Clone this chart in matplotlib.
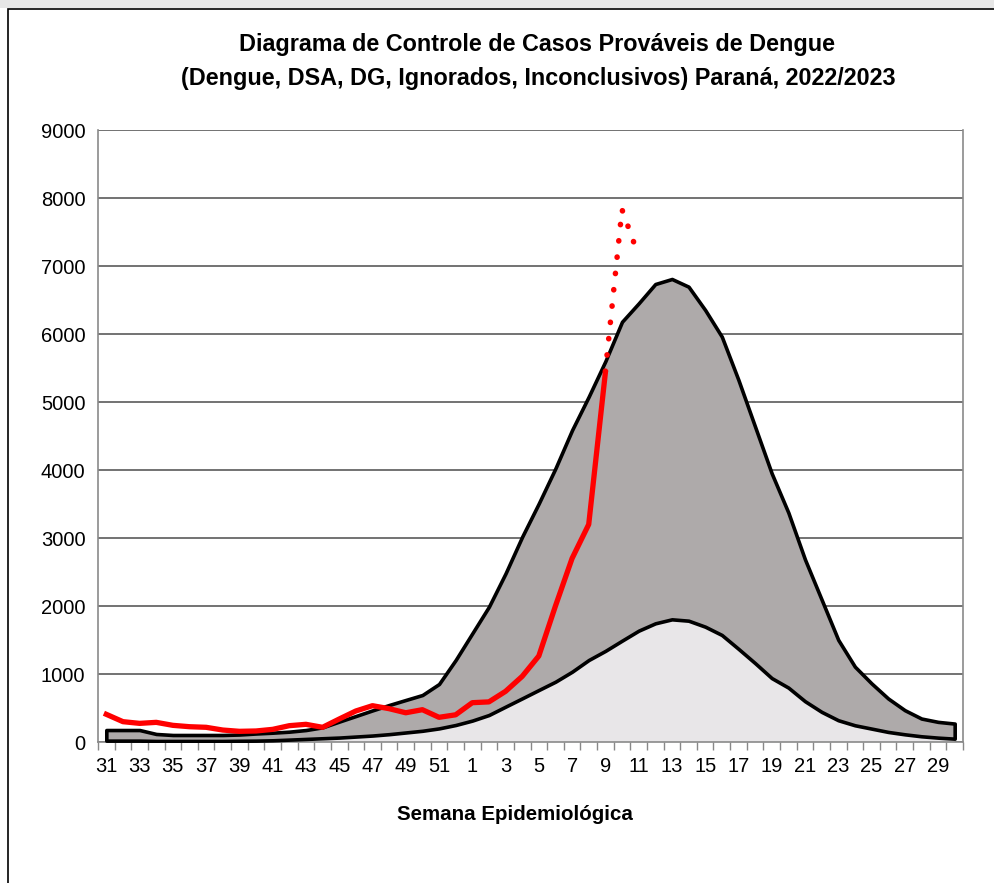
import numpy as np
import matplotlib
matplotlib.use("Agg")
import matplotlib.pyplot as plt
from matplotlib.patches import Rectangle

# semanas epidemiologicas 31/2022 .. 30/2023
weeks = list(range(31, 53)) + list(range(1, 31))

upper = [176, 176, 176, 118, 103, 103, 103, 103, 110, 125, 137, 152, 176, 216,
         300, 382, 465, 544, 618, 691, 853, 1206, 1598, 1990, 2480, 3020, 3510,
         4025, 4588, 5080, 5600, 6180, 6451, 6735, 6809, 6696, 6353, 5961, 5324,
         4637, 3950, 3374, 2685, 2094, 1502, 1108, 862, 640, 468, 345, 296, 271]
lower = [20, 20, 20, 15, 15, 15, 15, 15, 18, 20, 25, 35, 45, 55, 65, 80, 95,
         115, 140, 165, 200, 250, 315, 397, 520, 642, 765, 887, 1034, 1206,
         1340, 1490, 1637, 1745, 1804, 1784, 1696, 1574, 1370, 1160, 940, 800,
         600, 443, 320, 246, 197, 148, 113, 84, 64, 49]
# casos provaveis 2022/2023 (ate SE 9)
cases = [407, 299, 274, 289, 245, 225, 216, 176, 157, 162, 186, 240, 260, 216,
         338, 456, 534, 490, 430, 475, 363, 400, 578, 590, 745, 965, 1265, 2000,
         2700, 3200, 5430]
# estimativa (pontilhado) SE 9-11
est_weeks = [9, 10, 11]
est_cases = [5450, 7830, 7150]

title1 = "Diagrama de Controle de Casos Prováveis de Dengue"
title2 = "(Dengue, DSA, DG, Ignorados, Inconclusivos) Paraná, 2022/2023"

plt.rcParams["font.family"] = ["Liberation Sans", "DejaVu Sans"]

x = np.arange(len(weeks))
est_x = [weeks.index(w, 22) for w in est_weeks]

fig = plt.figure(figsize=(9.95, 8.83), dpi=100)
fig.patches.append(Rectangle((0, 1 - 8 / 883), 1, 8 / 883, transform=fig.transFigure,
                             facecolor="#e6e6e6", edgecolor="none"))
fig.patches.append(Rectangle((8 / 995, -0.05), 1.1, 1.05 - 9 / 883, transform=fig.transFigure,
                             facecolor="none", edgecolor="black", linewidth=1.2))

ax = fig.add_axes([98 / 995, 1 - 742 / 883, (963 - 98) / 995, (742 - 130) / 883])

ax.fill_between(x, 0, lower, facecolor="#e8e6e8", edgecolor="none", zorder=2)
ax.fill_between(x, lower, upper, facecolor="#aeaaaa", edgecolor="black",
                linewidth=2.6, joinstyle="round", zorder=3)
ax.plot(x[:len(cases)], cases, color="#ff0000", linewidth=3.8, solid_joinstyle="round", zorder=5)
ax.plot(est_x, est_cases, color="#ff0000", linewidth=4.0, linestyle=(0, (0.05, 2.9)),
        dash_capstyle="round", zorder=5)

ax.set_xlim(-0.5, len(weeks) - 0.5)
ax.set_ylim(0, 9000)
ax.set_yticks(range(0, 9001, 1000))
ax.yaxis.grid(True, color="#5a5a5a", linewidth=1.2)
ax.set_axisbelow(True)
ax.tick_params(axis="y", length=0, pad=9, labelsize=14.5)

ax.set_xticks(np.arange(-0.5, len(weeks), 1))
ax.set_xticklabels([])
ax.tick_params(axis="x", which="major", length=6, color="#888888", width=1)
ax.set_xticks(x[::2], minor=True)
ax.set_xticklabels([str(w) for w in weeks[::2]], minor=True)
ax.tick_params(axis="x", which="minor", length=0, pad=11, labelsize=14.5)

for side in ["left", "right", "bottom"]:
    ax.spines[side].set_color("#8a8a8a")
    ax.spines[side].set_linewidth(1.2)
ax.spines["top"].set_visible(False)

fig.text(515 / 995, 1 - 815 / 883, "Semana Epidemiológica", ha="center", va="center",
         fontsize=14.8, fontweight="bold")

fig.text(537 / 995, 1 - 45 / 883, title1, ha="center", va="center",
         fontsize=16.8, fontweight="bold")
fig.text(538 / 995, 1 - 78 / 883, title2, ha="center", va="center",
         fontsize=16.8, fontweight="bold")

fig.savefig("out.png", dpi=100, facecolor="white")
